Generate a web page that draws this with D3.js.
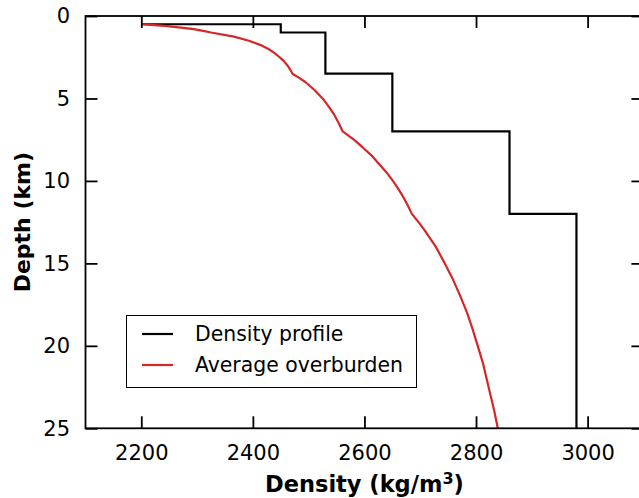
<!DOCTYPE html>
<html>
<head>
<meta charset="utf-8">
<script src="https://cdn.jsdelivr.net/npm/d3@7"></script>
<style>
  html, body { margin: 0; padding: 0; background: #fff; }
  svg { display: block; font-family: "DejaVu Sans", sans-serif; }
</style>
</head>
<body>
<svg id="chart" width="639" height="498"></svg>
<script>
// ---- data ----
const xTicks = [2200, 2400, 2600, 2800, 3000];
const yTicks = [0, 5, 10, 15, 20, 25];

// Density profile (step line): vertices
const profileDensity = [2200, 2450, 2450, 2530, 2530, 2650, 2650, 2860, 2860, 2980, 2980];
const profileDepth   = [0.5,  0.5,  1.0,  1.0,  3.5,  3.5,  7.0,  7.0,  12.0, 12.0, 25.0];

// Average overburden (red curve): values read/
const avgDepth   = [0.5, 0.55, 0.6, 0.7, 0.8, 0.9, 1.0, 1.25, 1.5, 1.75, 2.0, 2.25, 2.5, 2.75, 3.0, 3.25, 3.5, 3.75, 4.0, 4.5, 5.0, 5.5, 6.0, 6.5, 7.0, 7.5, 8.0, 8.5, 9.0, 9.5, 10.0, 10.5, 11.0, 11.5, 12.0, 12.5, 13.0, 13.5, 14.0, 15.0, 16.0, 17.0, 18.0, 19.0, 20.0, 21.0, 22.0, 23.0, 24.0, 25.0];
const avgDensity = [2200, 2223, 2242, 2271, 2294, 2311, 2325, 2366, 2393, 2413, 2428, 2439, 2448, 2456, 2462, 2467, 2471, 2483, 2494, 2511, 2525, 2536, 2546, 2554, 2561, 2581, 2598, 2614, 2627, 2640, 2651, 2661, 2670, 2678, 2685, 2697, 2708, 2718, 2728, 2744, 2759, 2772, 2784, 2794, 2803, 2812, 2819, 2826, 2833, 2839];

const legendLabels = ["Density profile", "Average overburden"];
const seriesColors = ["#000000", "#d62728"];

// ---- layout ----
const svg = d3.select("#chart");
const mLeft = 85.5, mRight = 643.4, mTop = 16, mBottom = 428.3;

const x = d3.scaleLinear().domain([2100, 3100]).range([mLeft, mRight]);
const y = d3.scaleLinear().domain([0, 25]).range([mTop, mBottom]);

const tickLen = 12;

// plot lines (clipped)
svg.append("defs").append("clipPath").attr("id", "clip")
  .append("rect").attr("x", mLeft).attr("y", mTop).attr("width", mRight - mLeft).attr("height", mBottom - mTop);

const line = d3.line().x(d => x(d[0])).y(d => y(d[1]));

const g = svg.append("g").attr("clip-path", "url(#clip)");
g.append("path")
  .datum(profileDensity.map((d, i) => [d, profileDepth[i]]))
  .attr("d", line).attr("fill", "none").attr("stroke", seriesColors[0])
  .attr("stroke-width", 2.2).attr("stroke-linejoin", "miter");
g.append("path")
  .datum(avgDensity.map((d, i) => [d, avgDepth[i]]))
  .attr("d", line).attr("fill", "none").attr("stroke", seriesColors[1])
  .attr("stroke-width", 2.2).attr("stroke-linejoin", "round");

// axes with inward ticks
const axStyle = sel => {
  sel.select(".domain").remove();
  sel.selectAll(".tick line").attr("stroke", "#000").attr("stroke-width", 1.8);
};
const fontTick = 21;

svg.append("g").attr("transform", `translate(0,${mBottom})`)
  .call(d3.axisBottom(x).tickValues(xTicks).tickFormat(d3.format("d")).tickSizeInner(-tickLen).tickSizeOuter(0).tickPadding(16.5))
  .call(axStyle)
  .call(s => s.selectAll("text").attr("font-size", fontTick).attr("fill", "#000").attr("font-family", "DejaVu Sans"));

svg.append("g").attr("transform", `translate(0,${mTop})`)
  .call(d3.axisTop(x).tickValues(xTicks).tickSizeInner(-tickLen).tickSizeOuter(0).tickFormat(""))
  .call(axStyle);

svg.append("g").attr("transform", `translate(${mLeft},0)`)
  .call(d3.axisLeft(y).tickValues(yTicks).tickFormat(d3.format("d")).tickSizeInner(-tickLen).tickSizeOuter(0).tickPadding(15.5))
  .call(axStyle)
  .call(s => s.selectAll("text").attr("font-size", fontTick).attr("fill", "#000").attr("font-family", "DejaVu Sans"));

svg.append("g").attr("transform", `translate(${mRight},0)`)
  .call(d3.axisRight(y).tickValues(yTicks).tickSizeInner(-tickLen).tickSizeOuter(0).tickFormat(""))
  .call(axStyle);

// frame
svg.append("rect").attr("x", mLeft).attr("y", mTop).attr("width", mRight - mLeft).attr("height", mBottom - mTop)
  .attr("fill", "none").attr("stroke", "#000").attr("stroke-width", 1.8);

// axis labels
const xl = svg.append("text").attr("x", (mLeft + mRight) / 2).attr("y", 492)
  .attr("text-anchor", "middle").attr("font-size", 22.5).attr("font-weight", "bold").attr("fill", "#000");
xl.append("tspan").text("Density (kg/m");
xl.append("tspan").text("3").attr("font-size", 16).attr("dy", -8.5);
xl.append("tspan").text(")").attr("dy", 8.5);

svg.append("text")
  .attr("transform", `translate(30,${(mTop + mBottom) / 2}) rotate(-90)`)
  .attr("text-anchor", "middle").attr("font-size", 22).attr("font-weight", "bold").attr("fill", "#000")
  .text("Depth (km)");

// legend
const lg = svg.append("g");
lg.append("rect").attr("x", 126.5).attr("y", 315.5).attr("width", 290).attr("height", 72)
  .attr("fill", "#fff").attr("stroke", "#000").attr("stroke-width", 1);
legendLabels.forEach((lab, i) => {
  const yy = 334 + i * 31;
  lg.append("line").attr("x1", 142).attr("x2", 173).attr("y1", yy).attr("y2", yy)
    .attr("stroke", seriesColors[i]).attr("stroke-width", 2.2);
  lg.append("text").attr("x", 195).attr("y", yy).attr("dy", "0.35em")
    .attr("font-size", 20.4).attr("fill", "#000").text(lab);
});
</script>
</body>
</html>
